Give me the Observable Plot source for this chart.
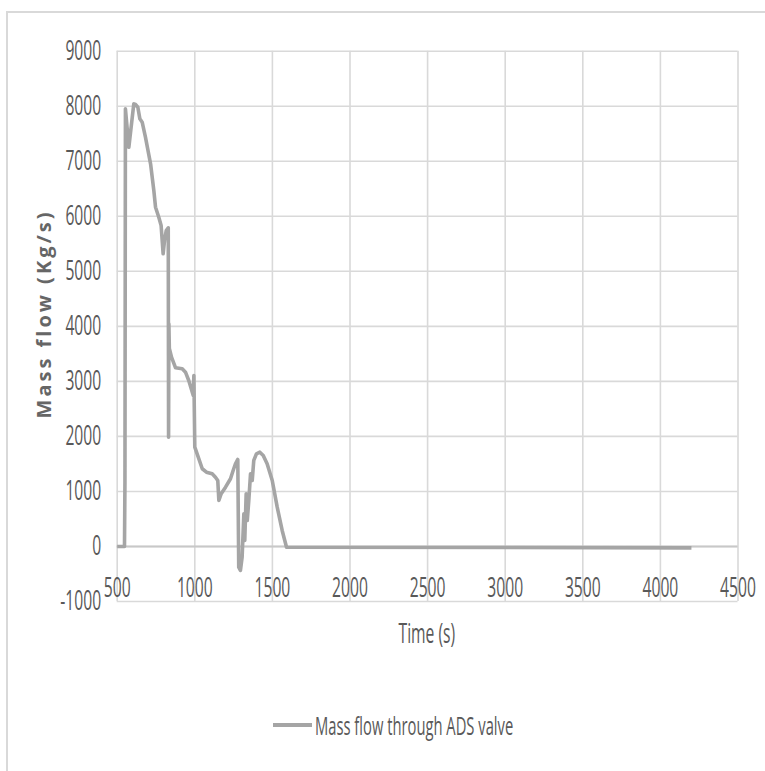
<!DOCTYPE html>
<html>
<head>
<meta charset="utf-8">
<script src="https://cdn.jsdelivr.net/npm/d3@7"></script>
<script src="https://cdn.jsdelivr.net/npm/@observablehq/plot@0.6"></script>
<style>
  body { margin: 0; background: #fff; }
  #wrap { position: relative; width: 765px; height: 771px; overflow: hidden; background: #fff; }
  #frame { position: absolute; left: 6px; top: 11px; width: 900px; height: 900px;
           border-left: 2px solid #d9d9d9; border-top: 2px solid #d9d9d9; }
  #chart { position: absolute; left: 0; top: 0; }
  #ytitle { position: absolute; left: -106px; top: 300px; width: 300px; height: 28px; line-height: 28px;
            text-align: center; transform: rotate(-90deg); font-family: "Open Sans", sans-serif;
            font-weight: bold; font-size: 20px; letter-spacing: 3px; color: #666; white-space: nowrap; }
  #xtitle { position: absolute; left: 0; width: 854px; top: 614px; text-align: center; white-space: nowrap; }
  #xtitle span { display: inline-block; font-family: "Open Sans", sans-serif; font-size: 27px; color: #595959;
                 transform: scaleX(0.58); }
  #legend { position: absolute; left: 273px; top: 708px; white-space: nowrap; display: flex; align-items: center; }
  #legend .sw { width: 39px; height: 4px; background: #a5a5a5; }
  #legend span { display: inline-block; font-family: "Open Sans", sans-serif; font-size: 25px; color: #595959;
                 transform: scaleX(0.59); transform-origin: left center; margin-left: 3px; }
</style>
</head>
<body>
<div id="wrap">
  <div id="frame"></div>
  <div id="chart"></div>
  <div id="ytitle">Mass flow (Kg/s)</div>
  <div id="xtitle"><span>Time (s)</span></div>
  <div id="legend"><div class="sw"></div><span>Mass flow through ADS valve</span></div>
</div>
<script>
// ---- data ----
const seriesName = "Mass flow through ADS valve";
const timeS = [500, 547, 550, 553, 575, 607, 618, 633, 646, 661, 682, 715, 736, 747, 768, 783, 796, 805, 816, 829,
  831, 833, 836, 850, 876, 919, 940, 961, 990, 994, 1000, 1015, 1048, 1075, 1112, 1133, 1148, 1155, 1170, 1198,
  1230, 1247, 1262, 1277, 1283, 1294, 1305, 1316, 1322, 1331, 1338, 1348, 1359, 1370, 1380, 1397, 1419, 1441,
  1466, 1499, 1531, 1563, 1591, 4200];
const massFlow = [0, 0, 1200, 7953, 7255, 8044, 8031, 7982, 7771, 7710, 7437, 6954, 6469, 6165, 5983, 5832, 5318, 5560, 5742, 5791,
  1986, 4046, 3600, 3440, 3247, 3229, 3167, 3016, 2744, 3107, 1804, 1684, 1412, 1350, 1321, 1259, 1199, 836, 958, 1077,
  1230, 1381, 1503, 1581, -376, -436, -194, 594, 109, 958, 472, 836, 1321, 1199, 1563, 1684, 1713, 1653,
  1503, 1199, 714, 291, -13, -25];
const xTicks = [500, 1000, 1500, 2000, 2500, 3000, 3500, 4000, 4500];
const yTicks = [-1000, 0, 1000, 2000, 3000, 4000, 5000, 6000, 7000, 8000, 9000];
const xAxisCrossing = 0;

const data = timeS.map((t, i) => ({t, v: massFlow[i]}));

const svg = Plot.plot({
  width: 765,
  height: 660,
  marginLeft: 116.7,
  marginRight: 27.5,
  marginTop: 50.7,
  marginBottom: 59,
  style: {background: "transparent", fontFamily: "'Open Sans', sans-serif", overflow: "visible"},
  x: {domain: [500, 4500], ticks: xTicks},
  y: {domain: [-1000, 9000], ticks: yTicks},
  marks: [
    Plot.gridX(xTicks, {stroke: "#d9d9d9", strokeOpacity: 1, strokeWidth: 1.6}),
    Plot.gridY(yTicks, {stroke: "#d9d9d9", strokeOpacity: 1, strokeWidth: 1.6}),
    Plot.ruleY([xAxisCrossing], {stroke: "#c8c8c8", strokeWidth: 2}),
    Plot.axisY(yTicks, {tickSize: 0, tickPadding: 16, tickFormat: d => String(d), fontSize: 27,
      fill: "#595959", label: null}),
    Plot.axisX({ticks: [], label: null, tickSize: 0}),
    Plot.text(xTicks, {x: d => d, y: () => xAxisCrossing, text: d => String(d), dy: 42, fontSize: 27,
      fill: "#595959"}),
    Plot.line(data, {x: "t", y: "v", stroke: "#a5a5a5", strokeWidth: 3.6, strokeLinejoin: "round", strokeLinecap: "butt"})
  ]
});
document.getElementById("chart").append(svg);

// condense every tick label horizontally, like the reference's narrow type
const k = 0.58;
svg.querySelectorAll("text").forEach(t => {
  const w = t.getComputedTextLength();
  if (w > 0) {
    t.setAttribute("textLength", (w * k).toFixed(1));
    t.setAttribute("lengthAdjust", "spacingAndGlyphs");
  }
});
</script>
</body>
</html>
